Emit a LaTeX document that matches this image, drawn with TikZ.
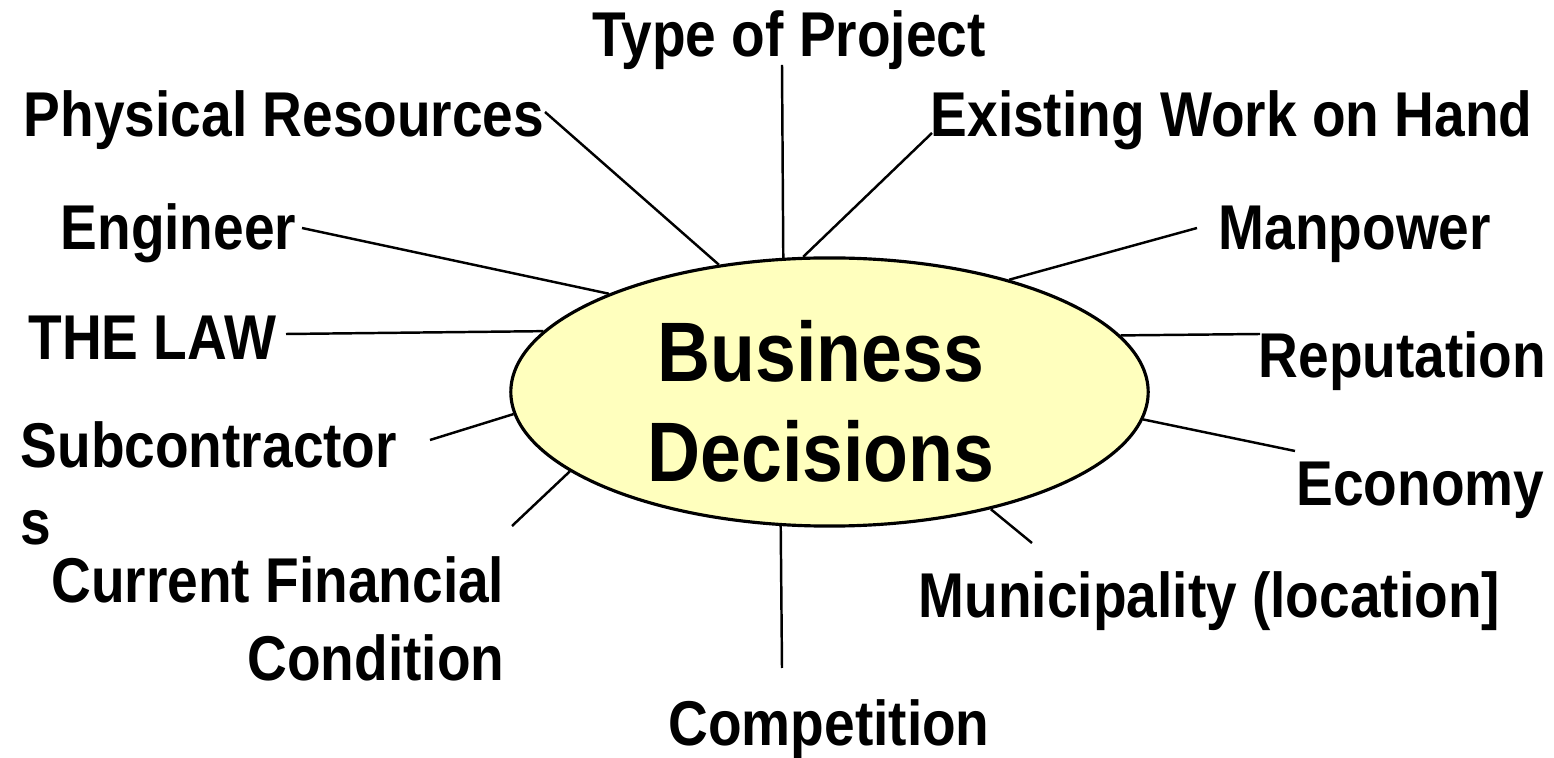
\documentclass[tikz,border=0pt]{standalone}
\usepackage{fontspec}
\setmainfont[FakeStretch=0.87]{Liberation Sans}
\usepackage{xcolor}
\usepackage{tikz}
\usetikzlibrary{shapes.geometric}
\definecolor{HubYellow}{RGB}{255,255,190}
\definecolor{HubLine}{RGB}{0,0,0}

\begin{document}
\begin{tikzpicture}[
x=0.01cm,y=-0.01cm,
hub/.style={
draw=HubLine,
fill=HubYellow,
ellipse,
line width=0.9pt,
minimum width=6.37cm,
minimum height=2.68cm,
inner sep=0pt
},
hubtext/.style={
font=\fontsize{24}{28.5}\selectfont\bfseries,
align=center,
inner sep=0pt
},
factor/.style={
font=\fontsize{18}{21.9}\selectfont\bfseries,
inner sep=0pt
},
spoke/.style={
draw=black,
line width=0.7pt
}
]

\path[use as bounding box,fill=white] (0,0) rectangle (1554,758);

% free ends of the spokes
\coordinate (typ-end) at (782,65);
\coordinate (phys-end) at (545,112);
\coordinate (exist-end) at (932,133);
\coordinate (eng-end) at (302,228);
\coordinate (manp-end) at (1197,228);
\coordinate (law-end) at (286,334);
\coordinate (rep-end) at (1260,334);
\coordinate (sub-end) at (430,440);
\coordinate (fin-end) at (512,526);
\coordinate (econ-end) at (1295,451);
\coordinate (muni-end) at (1032,543);
\coordinate (comp-end) at (782,668);

\node[hub] (bd) at (829.5,392) {};

\draw[spoke] (typ-end) -- (bd.109.3);
\draw[spoke] (phys-end) -- (bd.131.4);
\draw[spoke] (exist-end) -- (bd.101);
\draw[spoke] (eng-end) -- (bd.156.6);
\draw[spoke] (manp-end) -- (bd.32);
\draw[spoke] (law-end) -- (bd.168.7);
\draw[spoke] (rep-end) -- (bd.11.3);
\draw[spoke] (sub-end) -- (bd.184.4);
\draw[spoke] (fin-end) -- (bd.197.2);
\draw[spoke] (econ-end) -- (bd.355.3);
\draw[spoke] (muni-end) -- (bd.324.2);
\draw[spoke] (comp-end) -- (bd.250.7);

\node[hubtext] (bdtext) at (821,401) {Business\\Decisions};

% the factors round the hub (two-line ones sit on their last line)
\node[factor,anchor=base] (typ) at (789,57) {Type of Project};
\node[factor,anchor=base east] (phys) at (545,137) {Physical Resources};
\node[factor,anchor=base west] (exist) at (930,137) {Existing Work on Hand};
\node[factor,anchor=base east] (eng) at (297,250) {Engineer};
\node[factor,anchor=base west] (manp) at (1218,250) {Manpower};
\node[factor,anchor=base east] (law) at (277,360) {THE LAW};
\node[factor,anchor=base west] (rep) at (1258,378) {Reputation};
\node[factor,anchor=base west,align=left] (sub) at (20,545) {Subcontractor\\s};
\node[factor,anchor=base east,align=right] (fin) at (505,680) {Current Financial\\Condition};
\node[factor,anchor=base east] (econ) at (1545,506) {Economy};
\node[factor,anchor=base west] (muni) at (918,618) {Municipality (location]};
\node[factor,anchor=base] (comp) at (829,745) {Competition};

\end{tikzpicture}
\end{document}
